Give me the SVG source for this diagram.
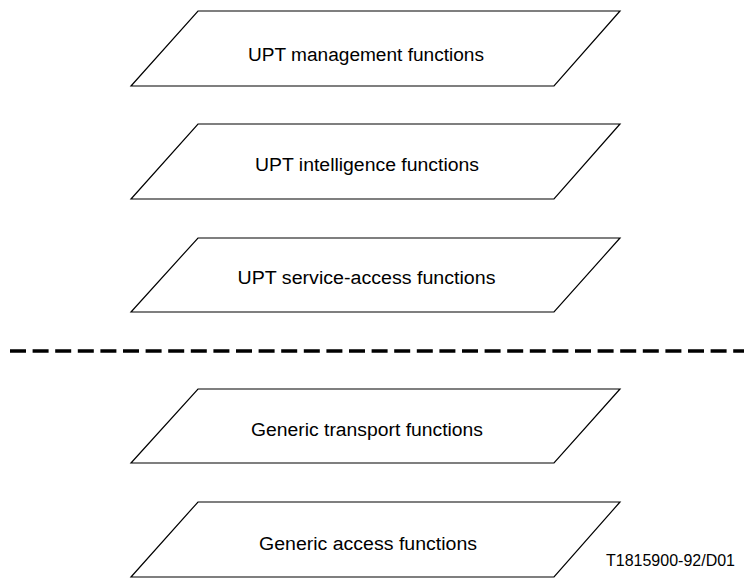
<svg xmlns="http://www.w3.org/2000/svg" width="744" height="578" viewBox="0 0 744 578">
<style>
.box{fill:#fff;stroke:#000;stroke-width:1.2}
.lbl{font-family:"Liberation Sans",Arial,sans-serif;font-size:18px;fill:#000;text-anchor:middle}
.ref{font-family:"Liberation Sans",Arial,sans-serif;font-size:16px;fill:#000}
.sep{stroke:#000;stroke-width:3.5;stroke-dasharray:16 6.6;fill:none}
</style>
<rect width="744" height="578" fill="#fff"/>
<g id="upt-management">
<polygon class="box" points="198,11 620,11 554,86 131,86"/>
<text class="lbl" x="366" y="61" textLength="236" lengthAdjust="spacingAndGlyphs">UPT management functions</text>
</g>
<g id="upt-intelligence">
<polygon class="box" points="198,124 620,124 554,199 131,199"/>
<text class="lbl" x="367" y="171" textLength="224" lengthAdjust="spacingAndGlyphs">UPT intelligence functions</text>
</g>
<g id="upt-service-access">
<polygon class="box" points="198,238 620,238 554,312 131,312"/>
<text class="lbl" x="366.5" y="284" textLength="258" lengthAdjust="spacingAndGlyphs">UPT service-access functions</text>
</g>
<g id="connectors">
<line class="sep" x1="10" y1="351" x2="744" y2="351"/>
</g>
<g id="generic-transport">
<polygon class="box" points="198,389 620,389 554,463 131,463"/>
<text class="lbl" x="367" y="436" textLength="232" lengthAdjust="spacingAndGlyphs">Generic transport functions</text>
</g>
<g id="generic-access">
<polygon class="box" points="198,502 620,502 554,577 131,577"/>
<text class="lbl" x="368" y="550" textLength="218" lengthAdjust="spacingAndGlyphs">Generic access functions</text>
</g>
<text class="ref" x="606" y="566">T1815900-92/D01</text>
</svg>
